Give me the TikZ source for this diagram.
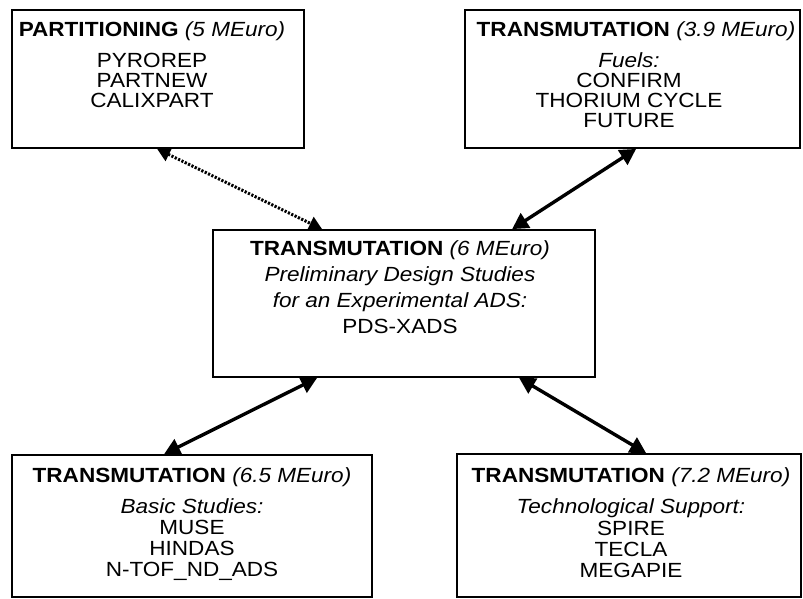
\documentclass[tikz,border=0pt]{standalone}
\usepackage{fontspec}
\setmainfont[FakeStretch=1.1]{Liberation Sans}
\usetikzlibrary{arrows.meta}
\begin{document}
\begin{tikzpicture}[x=1pt,y=-1pt,
  box/.style={draw=black,line width=1.8pt,rectangle,inner sep=0pt,fill=none},
  txt/.style={anchor=base,inner sep=0pt,font=\fontsize{20.5}{21}\selectfont},
  link/.style={line width=3.4pt,{Triangle[length=16pt,width=17pt]}-{Triangle[length=16pt,width=17pt]}},
  dlink/.style={line width=3pt,dash pattern=on 2.2pt off 1.5pt,{Triangle[length=13pt,width=14pt]}-{Triangle[length=13pt,width=14pt]}}]
\useasboundingbox[fill=white] (0,0) rectangle (803,599);
% boxes
\node[box,minimum width=292pt,minimum height=138pt] (part) at (158,79) {};
\node[box,minimum width=335pt,minimum height=138pt] (fuel) at (632.5,79) {};
\node[box,minimum width=382pt,minimum height=147pt] (cent) at (404,303.5) {};
\node[box,minimum width=360pt,minimum height=142pt] (basic) at (192,526) {};
\node[box,minimum width=344pt,minimum height=143pt] (tech) at (629,525.5) {};
% texts: partitioning
\node[txt] (p0) at (152,37) {\textbf{PARTITIONING} \textit{(5 MEuro)}};
\node[txt] (p1) at (152,68) {PYROREP};
\node[txt] (p2) at (152,88) {PARTNEW};
\node[txt] (p3) at (152,108) {CALIXPART};
% fuels
\node[txt] (f0) at (636,37) {\textbf{TRANSMUTATION} \textit{(3.9 MEuro)}};
\node[txt] (f1) at (629,68) {\textit{Fuels:}};
\node[txt] (f2) at (629,88) {CONFIRM};
\node[txt] (f3) at (629,108) {THORIUM CYCLE};
\node[txt] (f4) at (629,128) {FUTURE};
% centre
\node[txt] (c0) at (400,255) {\textbf{TRANSMUTATION} \textit{(6 MEuro)}};
\node[txt] (c1) at (400,281) {\textit{Preliminary Design Studies}};
\node[txt] (c2) at (400,307) {\textit{for an Experimental ADS:}};
\node[txt] (c3) at (400,333) {PDS-XADS};
% basic
\node[txt] (b0) at (192,482) {\textbf{TRANSMUTATION} \textit{(6.5 MEuro)}};
\node[txt] (b1) at (192,513) {\textit{Basic Studies:}};
\node[txt] (b2) at (192,534) {MUSE};
\node[txt] (b3) at (192,555) {HINDAS};
\node[txt] (b4) at (192,576) {N-TOF\_ND\_ADS};
% tech
\node[txt] (t0) at (631,482) {\textbf{TRANSMUTATION} \textit{(7.2 MEuro)}};
\node[txt] (t1) at (631,513) {\textit{Technological Support:}};
\node[txt] (t2) at (631,535) {SPIRE};
\node[txt] (t3) at (631,556) {TECLA};
\node[txt] (t4) at (631,577) {MEGAPIE};
% connectors
\draw[dlink] ([xshift=146pt]part.south west) -- ([xshift=110pt]cent.north west);
\draw[link] ([xshift=172pt]fuel.south west) -- ([xshift=300pt]cent.north west);
\draw[link] ([xshift=105pt]cent.south west) -- ([xshift=153pt]basic.north west);
\draw[link] ([xshift=307pt]cent.south west) -- ([xshift=190pt]tech.north west);
\end{tikzpicture}
\end{document}
